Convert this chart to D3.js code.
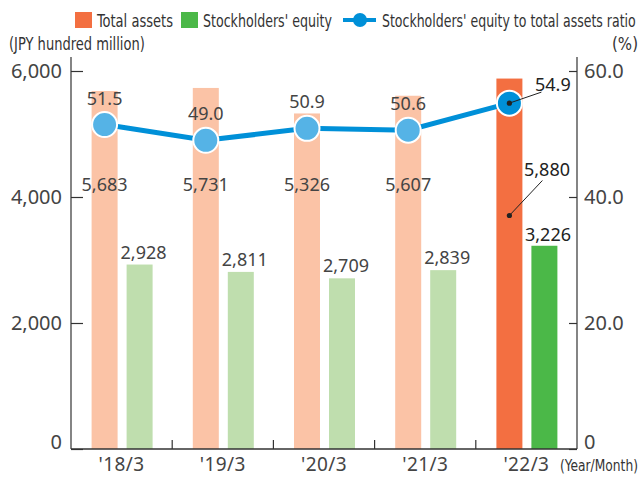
<!DOCTYPE html>
<html>
<head>
<meta charset="utf-8">
<script src="https://cdn.jsdelivr.net/npm/d3@7/dist/d3.min.js"></script>
<style>
  html, body { margin: 0; padding: 0; background: #fff; }
  svg { display: block; }
  .num { font-family: "Noto Sans", "Open Sans", sans-serif; font-size: 18px; fill: #444; }
  .tick-label { font-size: 20px; }
  .cat-label { font-size: 19px; letter-spacing: 0.4px; }
  .cond { font-family: "Liberation Sans Narrow", "DejaVu Sans Condensed", sans-serif; fill: #333; }
</style>
</head>
<body>
<svg id="chart" width="643" height="477"></svg>
<script>
// Fiscal year-ends (March)
const years = ["'18/3", "'19/3", "'20/3", "'21/3", "'22/3"];
// JPY hundred million
const totalAssets = [5683, 5731, 5326, 5607, 5880];
const equity = [2928, 2811, 2709, 2839, 3226];
// Stockholders' equity to total assets ratio (%)
const ratio = [51.5, 49.0, 50.9, 50.6, 54.9];
const leftTicks = [0, 2000, 4000, 6000];
const rightTicks = [0, 20, 40, 60];

const svg = d3.select("#chart");
const plotLeft = 71, plotRight = 577, plotTop = 57, plotBottom = 449;

const x = d3.scaleBand().domain(years).range([plotLeft, plotRight]);
const yL = d3.scaleLinear().domain([0, 6000]).range([plotBottom, 71]);
const yR = d3.scaleLinear().domain([0, 60]).range([plotBottom, 71]);

const barW = 26;
const last = years.length - 1;
const cx = (i) => x(years[i]) + x.bandwidth() / 2;
const assetX = (i) => cx(i) - 30;
const equityX = (i) => cx(i) + 5;
const pointX = (i) => assetX(i) + barW / 2;

const colors = {
  asset: "#fbc3a6", assetCur: "#f36f41",
  equity: "#bfdeae", equityCur: "#4bb848",
  line: "#0090d8", point: "#55b3e6", pointCur: "#0090d8"
};

// Bars
svg.append("g").selectAll("rect").data(totalAssets).join("rect")
  .attr("x", (d, i) => assetX(i))
  .attr("y", d => yL(d))
  .attr("width", barW)
  .attr("height", d => plotBottom - yL(d))
  .attr("fill", (d, i) => i === last ? colors.assetCur : colors.asset);

svg.append("g").selectAll("rect").data(equity).join("rect")
  .attr("x", (d, i) => equityX(i))
  .attr("y", d => yL(d))
  .attr("width", barW)
  .attr("height", d => plotBottom - yL(d))
  .attr("fill", (d, i) => i === last ? colors.equityCur : colors.equity);

// Axes
const axisColor = "#333";
const gL = svg.append("g").attr("transform", `translate(${plotLeft},0)`)
  .call(d3.axisRight(yL).tickValues(leftTicks).tickSize(12).tickFormat(""));
gL.select(".domain").remove();
svg.append("line").attr("x1", plotLeft).attr("x2", plotLeft).attr("y1", plotTop).attr("y2", plotBottom)
  .attr("stroke", axisColor).attr("stroke-width", 1.2);
gL.selectAll(".tick line").attr("stroke", axisColor).attr("stroke-width", 1.2);

const gR = svg.append("g").attr("transform", `translate(${plotRight},0)`)
  .call(d3.axisLeft(yR).tickValues(rightTicks).tickSize(8).tickFormat(""));
gR.select(".domain").remove();
svg.append("line").attr("x1", plotRight).attr("x2", plotRight).attr("y1", plotTop).attr("y2", plotBottom)
  .attr("stroke", axisColor).attr("stroke-width", 1.2);
gR.selectAll(".tick line").attr("stroke", axisColor).attr("stroke-width", 1.2);

svg.append("line").attr("x1", plotLeft).attr("x2", plotRight).attr("y1", plotBottom).attr("y2", plotBottom)
  .attr("stroke", axisColor).attr("stroke-width", 1.5);
// Inner separators between fiscal years
svg.append("g").selectAll("line").data(years.slice(1)).join("line")
  .attr("x1", d => x(d)).attr("x2", d => x(d))
  .attr("y1", plotBottom).attr("y2", plotBottom - 9)
  .attr("stroke", axisColor).attr("stroke-width", 1.2);

// Tick labels (the zero labels sit on the baseline)
const tickY = (scale, d) => d === 0 ? plotBottom : scale(d) + 7;
svg.append("g").selectAll("text").data(leftTicks).join("text")
  .attr("class", "num tick-label")
  .attr("x", 62).attr("y", d => tickY(yL, d))
  .attr("text-anchor", "end")
  .text(d => d3.format(",")(d));
svg.append("g").selectAll("text").data(rightTicks).join("text")
  .attr("class", "num tick-label")
  .attr("x", 584).attr("y", d => tickY(yR, d))
  .text(d => d === 0 ? "0" : d3.format(".1f")(d));
svg.append("g").selectAll("text").data(years).join("text")
  .attr("class", "num cat-label")
  .attr("x", d => x(d) + x.bandwidth() / 2)
  .attr("y", 471)
  .attr("text-anchor", "middle")
  .text(d => d);

// Ratio line
const line = d3.line().x((d, i) => pointX(i)).y(d => yR(d));
svg.append("path").datum(ratio)
  .attr("d", line).attr("fill", "none")
  .attr("stroke", colors.line).attr("stroke-width", 5);
svg.append("g").selectAll("circle").data(ratio).join("circle")
  .attr("cx", (d, i) => pointX(i)).attr("cy", d => yR(d))
  .attr("r", 12.5)
  .attr("fill", (d, i) => i === last ? colors.pointCur : colors.point)
  .attr("stroke", "#fff").attr("stroke-width", 2);

// Value labels for earlier years
const past = d3.range(last);
svg.append("g").selectAll("text").data(past).join("text")
  .attr("class", "num").attr("text-anchor", "middle")
  .attr("x", i => pointX(i)).attr("y", i => yR(ratio[i]) - 20)
  .text(i => d3.format(".1f")(ratio[i]));
svg.append("g").selectAll("text").data(past).join("text")
  .attr("class", "num").attr("text-anchor", "middle")
  .attr("x", i => pointX(i)).attr("y", 191)
  .text(i => d3.format(",")(totalAssets[i]));
svg.append("g").selectAll("text").data(past).join("text")
  .attr("class", "num").attr("text-anchor", "middle")
  .attr("x", i => equityX(i) + barW / 2 + 4).attr("y", i => yL(equity[i]) - 6)
  .text(i => d3.format(",")(equity[i]));

// Callouts for the latest year
const cur = svg.append("g");
const px = pointX(last), py = yR(ratio[last]);
cur.append("line").attr("x1", px).attr("y1", py).attr("x2", px + 32).attr("y2", py - 11)
  .attr("stroke", "#222").attr("stroke-width", 1);
cur.append("circle").attr("cx", px).attr("cy", py).attr("r", 2.6).attr("fill", "#222");
cur.append("text").attr("class", "num").style("fill", "#222")
  .attr("x", 535).attr("y", py - 12).text(d3.format(".1f")(ratio[last]));

const ay = 215.5;
cur.append("line").attr("x1", px).attr("y1", ay).attr("x2", px + 33).attr("y2", ay - 35)
  .attr("stroke", "#222").attr("stroke-width", 1);
cur.append("circle").attr("cx", px).attr("cy", ay).attr("r", 2.6).attr("fill", "#222");
cur.append("text").attr("class", "num").style("fill", "#222")
  .attr("x", 524).attr("y", 176).text(d3.format(",")(totalAssets[last]));
cur.append("text").attr("class", "num").style("fill", "#222")
  .attr("x", 525).attr("y", yL(equity[last]) - 5).text(d3.format(",")(equity[last]));

// Condensed caption: squeeze horizontally to a target width
function condensed(str, x0, y0, size, width) {
  const t = svg.append("text").attr("class", "cond")
    .style("font-size", size + "px").text(str);
  const natural = t.node().getComputedTextLength();
  const sx = width / natural;
  t.attr("transform", `translate(${x0},${y0}) scale(${sx},1)`);
  return t;
}

// Legend
svg.append("rect").attr("x", 75).attr("y", 12).attr("width", 17).attr("height", 16).attr("fill", colors.assetCur);
condensed("Total assets", 97, 26.5, 18, 76);
svg.append("rect").attr("x", 181).attr("y", 12).attr("width", 17).attr("height", 16).attr("fill", colors.equityCur);
condensed("Stockholders' equity", 203, 26.5, 18, 129);
svg.append("line").attr("x1", 343).attr("x2", 376).attr("y1", 20).attr("y2", 20)
  .attr("stroke", colors.line).attr("stroke-width", 4);
svg.append("circle").attr("cx", 360).attr("cy", 20).attr("r", 7).attr("fill", colors.line);
condensed("Stockholders' equity to total assets ratio", 382, 26.5, 18, 254);

// Axis titles
condensed("(JPY hundred million)", 9, 50, 17, 136);
condensed("(%)", 612, 50, 18, 26);
condensed("(Year/Month)", 560, 471, 15, 78);
</script>
</body>
</html>
